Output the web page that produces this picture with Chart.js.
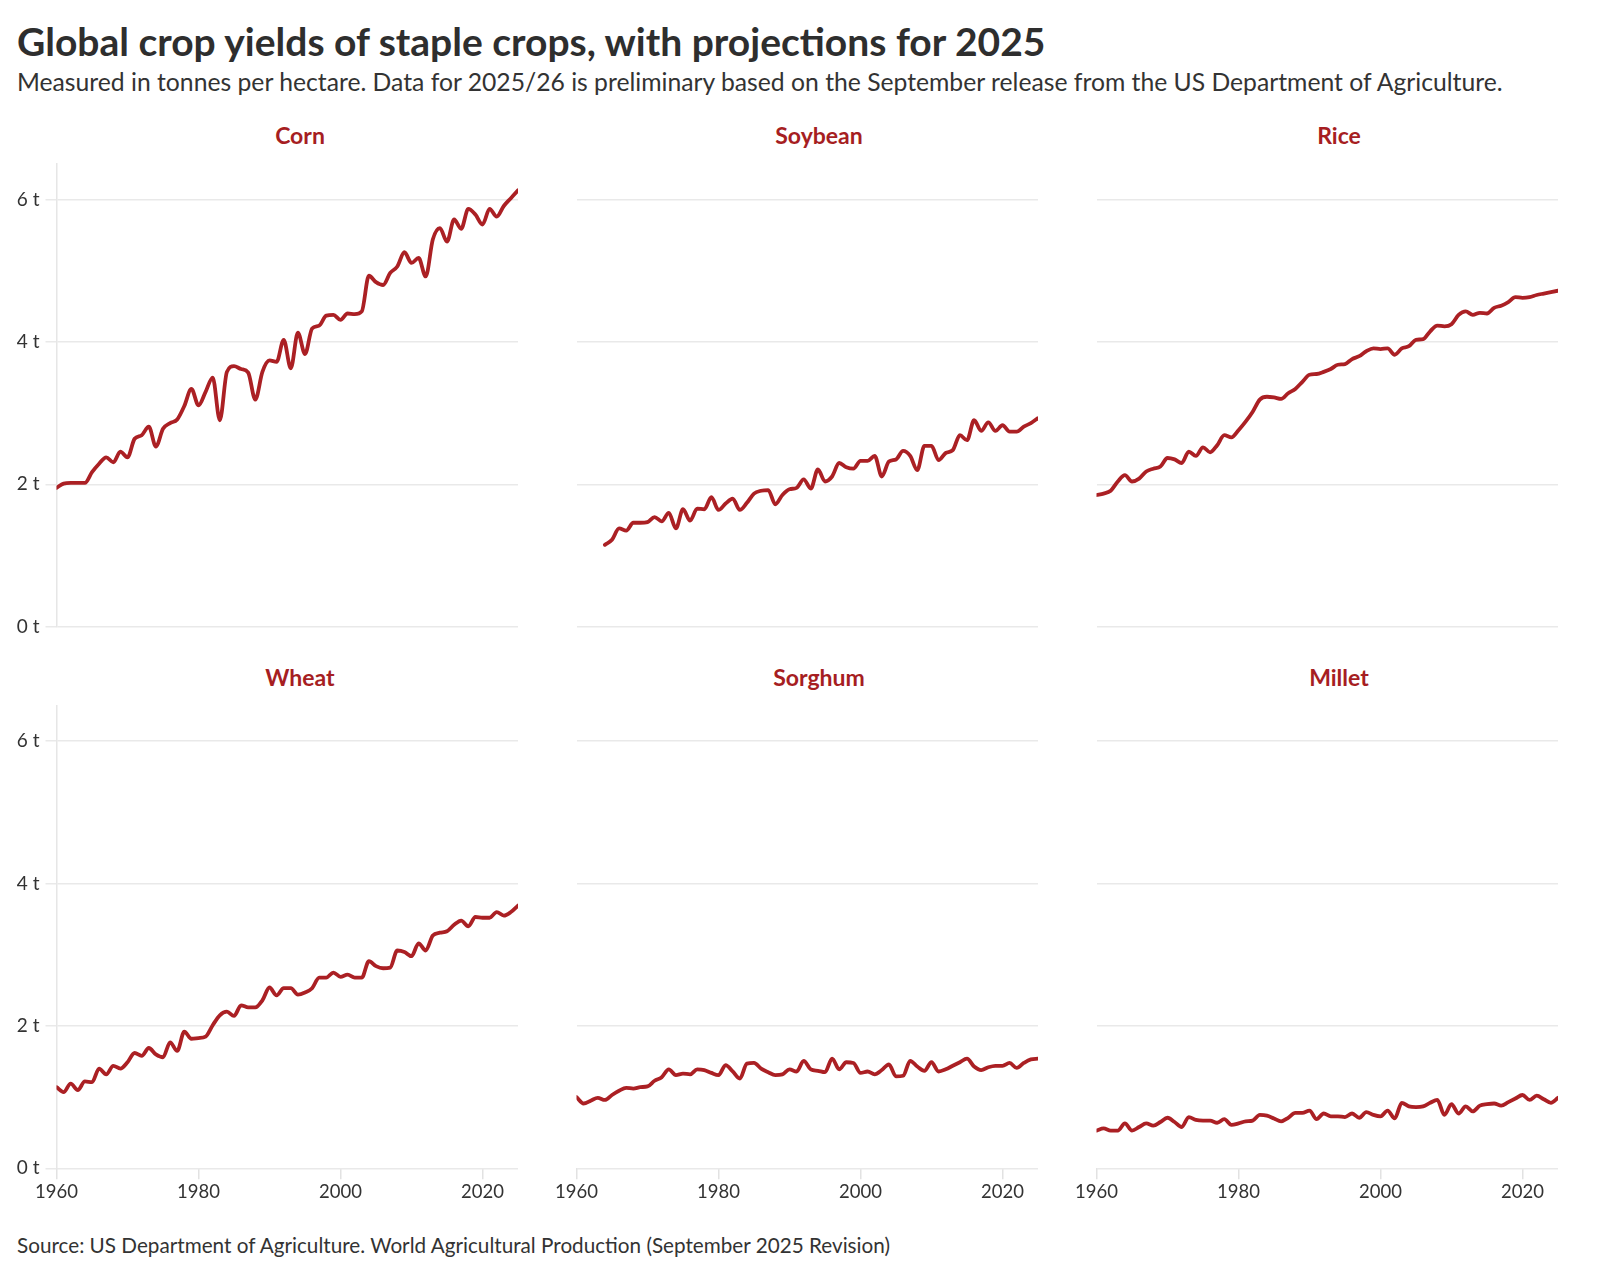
<!DOCTYPE html>
<html>
<head>
<meta charset="utf-8">
<script src="https://cdn.jsdelivr.net/npm/chart.js@4.4.1/dist/chart.umd.min.js"></script>
<style>
  html, body { margin: 0; padding: 0; background: #ffffff; }
  body { width: 1600px; height: 1276px; position: relative; overflow: hidden; font-family: Lato, sans-serif; }
  .txt { position: absolute; white-space: nowrap; margin: 0; }
  .panel { position: absolute; }
  .panel canvas { display: block; }
</style>
</head>
<body>
<div id="title" class="txt" data-wt="700" style="color:#2e2e2e">Global crop yields of staple crops, with projections for 2025</div>
<div id="subtitle" class="txt" data-wt="400" style="color:#333">Measured in tonnes per hectare. Data for 2025/26 is preliminary based on the September release from the US Department of Agriculture.</div>
<div id="source" class="txt" data-wt="400" style="color:#333">Source: US Department of Agriculture. World Agricultural Production (September 2025 Revision)</div>

<script>
// ---------------- DATA ----------------
const cropNames = ["Corn", "Soybean", "Rice", "Wheat", "Sorghum", "Millet"];
const yTickValues = [0, 2, 4, 6];
const xTickValues = [1960, 1980, 2000, 2020];

const yearsFull = [];               // 1960 .. 2025
for (let y = 1960; y <= 2025; y++) yearsFull.push(y);
const yearsSoy = [];                // 1964 .. 2025
for (let y = 1964; y <= 2025; y++) yearsSoy.push(y);

const corn = [1.95,2.01,2.02,2.02,2.02,2.17,2.29,2.38,2.31,2.46,
  2.38,2.64,2.69,2.81,2.53,2.78,2.86,2.91,3.10,3.34,
  3.11,3.30,3.50,2.90,3.58,3.66,3.62,3.57,3.19,3.58,
  3.74,3.72,4.03,3.63,4.13,3.83,4.19,4.23,4.37,4.38,
  4.31,4.40,4.39,4.43,4.93,4.84,4.80,4.97,5.06,5.26,
  5.11,5.18,4.92,5.44,5.60,5.41,5.72,5.59,5.87,5.79,
  5.65,5.87,5.76,5.91,6.02,6.13];

const soybean = [1.15,1.22,1.38,1.35,1.46,1.46,
  1.47,1.54,1.48,1.60,1.38,1.65,1.49,1.66,1.65,1.82,
  1.64,1.73,1.80,1.64,1.74,1.87,1.91,1.92,1.72,1.85,
  1.93,1.95,2.07,1.94,2.21,2.04,2.11,2.30,2.24,2.22,
  2.33,2.33,2.40,2.11,2.32,2.35,2.47,2.40,2.20,2.54,
  2.54,2.34,2.44,2.48,2.69,2.62,2.90,2.75,2.87,2.75,
  2.83,2.74,2.74,2.81,2.86,2.93];

const rice = [1.85,1.87,1.91,2.04,2.13,2.04,2.08,2.18,2.22,2.25,
  2.37,2.35,2.30,2.46,2.40,2.52,2.45,2.55,2.69,2.66,
  2.76,2.88,3.02,3.19,3.23,3.22,3.20,3.28,3.34,3.44,
  3.54,3.55,3.58,3.62,3.68,3.69,3.76,3.80,3.87,3.91,
  3.90,3.91,3.82,3.91,3.94,4.03,4.04,4.15,4.23,4.22,
  4.25,4.38,4.43,4.38,4.41,4.40,4.48,4.51,4.56,4.63,
  4.62,4.63,4.66,4.68,4.70,4.72];

const wheat = [1.14,1.07,1.19,1.10,1.22,1.21,1.40,1.32,1.44,1.40,
  1.49,1.62,1.58,1.69,1.60,1.56,1.77,1.65,1.92,1.82,
  1.83,1.85,2.01,2.15,2.20,2.14,2.29,2.26,2.26,2.36,
  2.54,2.43,2.53,2.53,2.44,2.47,2.53,2.68,2.68,2.75,
  2.69,2.72,2.68,2.68,2.91,2.84,2.81,2.82,3.06,3.04,
  2.98,3.16,3.06,3.27,3.31,3.33,3.42,3.48,3.40,3.53,
  3.52,3.52,3.60,3.55,3.60,3.69];

const sorghum = [1.00,0.91,0.95,0.99,0.96,1.03,1.09,1.13,1.12,1.14,
  1.15,1.23,1.28,1.39,1.31,1.33,1.32,1.39,1.38,1.34,
  1.31,1.45,1.36,1.26,1.47,1.48,1.40,1.35,1.31,1.32,
  1.39,1.36,1.51,1.39,1.37,1.35,1.54,1.39,1.49,1.48,
  1.34,1.36,1.32,1.38,1.46,1.29,1.30,1.51,1.43,1.37,
  1.49,1.36,1.39,1.44,1.49,1.54,1.43,1.38,1.42,1.44,
  1.44,1.48,1.41,1.48,1.53,1.54];

const millet = [0.53,0.56,0.53,0.53,0.63,0.53,0.58,0.63,0.60,0.65,
  0.71,0.65,0.58,0.72,0.68,0.67,0.67,0.64,0.69,0.61,
  0.63,0.66,0.67,0.75,0.74,0.70,0.66,0.71,0.78,0.78,
  0.81,0.69,0.77,0.73,0.73,0.72,0.77,0.71,0.79,0.75,
  0.73,0.81,0.70,0.92,0.87,0.86,0.87,0.92,0.96,0.75,
  0.90,0.77,0.87,0.80,0.88,0.90,0.91,0.88,0.93,0.98,
  1.03,0.96,1.02,0.97,0.92,0.99];

const cropYears = [yearsFull, yearsSoy, yearsFull, yearsFull, yearsFull, yearsFull];
const cropValues = [corn, soybean, rice, wheat, sorghum, millet];

// ---------------- STYLE / LAYOUT ----------------
const LINE = '#ab2024';
const TITLE_RED = '#a61e22';
const GRID = '#e9e9e9';
const TEXT = '#333333';
const FONT = 'Lato';

const measureCtx = document.createElement('canvas').getContext('2d');
function placeText(el, opt) {
  const wt = el.dataset.wt;
  let size = opt.size;
  if (opt.width) {
    measureCtx.font = wt + ' 100px ' + FONT;
    size = 100 * opt.width / measureCtx.measureText(el.textContent).width;
  }
  measureCtx.font = wt + ' ' + size + 'px ' + FONT;
  const mH = measureCtx.measureText('H');
  const fA = mH.fontBoundingBoxAscent, fD = mH.fontBoundingBoxDescent, capH = mH.actualBoundingBoxAscent;
  const w = measureCtx.measureText(el.textContent).width;
  el.style.font = wt + ' ' + size + 'px ' + FONT;
  el.style.lineHeight = (fA + fD) + 'px';
  el.style.top = (opt.capCenter + capH / 2 - fA) + 'px';
  el.style.left = (opt.anchor === 'center' ? opt.x - w / 2 : opt.x) + 'px';
}

placeText(document.getElementById('title'), { x: 17, capCenter: 41.5, width: 1032 });
placeText(document.getElementById('subtitle'), { x: 17, capCenter: 81.5, width: 1490 });
placeText(document.getElementById('source'), { x: 17, capCenter: 1245, width: 876 });

// chart areas: columns and rows (page px)
const cols = [{ left: 56.5, right: 518, title: 300 }, { left: 576.5, right: 1038, title: 819 }, { left: 1096.5, right: 1558, title: 1339 }];
const rows = [{ top: 164, bottom: 626.7, titleCap: 135.5 }, { top: 705.6, bottom: 1168.3, titleCap: 677 }];

function setTicks(values) {
  return function (axis) {
    axis.ticks = values.map(v => ({ value: v }));
  };
}

for (let i = 0; i < 6; i++) {
  const c = i % 3, r = Math.floor(i / 3);
  const col = cols[c], row = rows[r];
  const isLeft = c === 0, isBottom = r === 1;

  // panel title
  const t = document.createElement('div');
  t.className = 'txt';
  t.dataset.wt = '700';
  t.style.color = TITLE_RED;
  t.textContent = cropNames[i];
  document.body.appendChild(t);
  placeText(t, { x: col.title, capCenter: row.titleCap, size: 23, anchor: 'center' });

  // canvas geometry
  const canvasLeft = isLeft ? 0 : Math.floor(col.left) - 30;
  const canvasRight = col.right + 18;
  const canvasTop = Math.floor(row.top) - 18;
  const xAxisH = 40;
  const canvasBottom = isBottom ? 1226 : Math.ceil(row.bottom) + 20;
  const padBottom = isBottom ? canvasBottom - row.bottom - xAxisH : canvasBottom - row.bottom;

  const wrap = document.createElement('div');
  wrap.className = 'panel';
  wrap.style.left = canvasLeft + 'px';
  wrap.style.top = canvasTop + 'px';
  wrap.style.width = (canvasRight - canvasLeft) + 'px';
  wrap.style.height = (canvasBottom - canvasTop) + 'px';
  const cv = document.createElement('canvas');
  wrap.appendChild(cv);
  document.body.appendChild(wrap);

  const yrs = cropYears[i], vals = cropValues[i];
  const points = yrs.map((y, k) => ({ x: y, y: vals[k] }));

  const xScale = {
    type: 'linear',
    min: 1960,
    max: 2025,
    display: isBottom,
    afterBuildTicks: setTicks(xTickValues),
    border: { display: false },
    grid: { display: true, drawOnChartArea: false, drawTicks: true, tickLength: 11, color: '#e2e2e2', lineWidth: 1.5 },
    ticks: {
      padding: 2,
      color: TEXT,
      font: { family: FONT, size: 18.5 },
      maxRotation: 0,
      autoSkip: false,
      callback: v => String(v)
    }
  };
  if (isBottom) xScale.afterFit = function (s) { s.height = xAxisH; };

  new Chart(cv, {
    type: 'line',
    data: {
      datasets: [{
        label: cropNames[i],
        data: points,
        borderColor: LINE,
        backgroundColor: LINE,
        borderWidth: 3.8,
        pointRadius: 0,
        pointHoverRadius: 0,
        cubicInterpolationMode: 'monotone',
        borderCapStyle: 'round',
        borderJoinStyle: 'round',
        fill: false
      }]
    },
    options: {
      responsive: true,
      maintainAspectRatio: false,
      animation: false,
      devicePixelRatio: 1,
      layout: {
        padding: {
          left: isLeft ? 0 : col.left - canvasLeft,
          right: canvasRight - col.right,
          top: row.top - canvasTop,
          bottom: padBottom
        }
      },
      plugins: { legend: { display: false }, tooltip: { enabled: false }, title: { display: false } },
      scales: {
        x: xScale,
        y: {
          type: 'linear',
          min: 0,
          max: 6.5,
          afterBuildTicks: setTicks(yTickValues),
          afterFit: function (s) { s.width = isLeft ? col.left : 0; },
          border: { display: isLeft, color: '#e6e6e6', width: 1.5 },
          grid: { color: GRID, lineWidth: 1.5, drawTicks: isLeft, tickLength: 11 },
          ticks: {
            display: isLeft,
            padding: 6,
            color: TEXT,
            font: { family: FONT, size: 19 },
            callback: v => v + ' t'
          }
        }
      }
    }
  });
}
</script>
</body>
</html>
